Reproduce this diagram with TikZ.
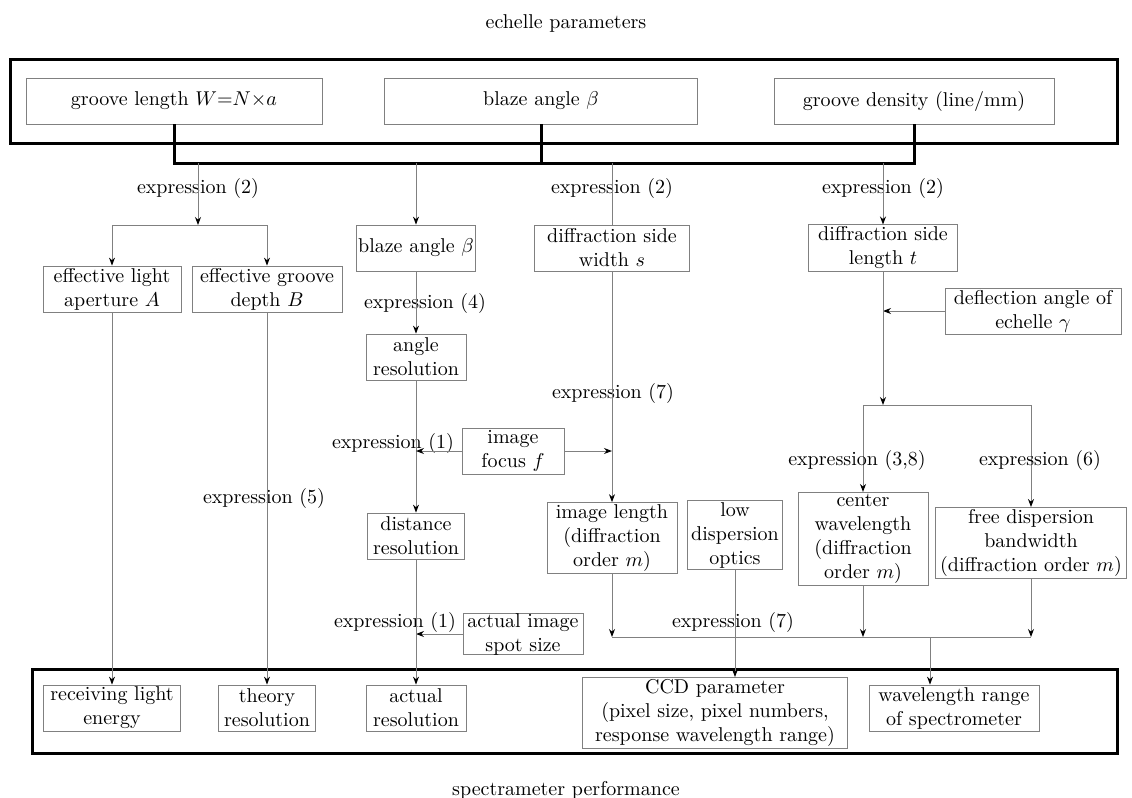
\documentclass[tikz,border=0pt]{standalone}
\usepackage{amsmath}
\usepackage{tikz}
\usetikzlibrary{arrows.meta}

\begin{document}
\begin{tikzpicture}[x=0.5pt,y=-0.5pt,font=\fontsize{10}{12}\selectfont,
	box/.style={draw=gray,align=center,inner sep=1pt,minimum height=23pt},
	frame/.style={line width=1.5pt},
	link/.style={draw=gray,line width=0.5pt},
	arr/.style={link,-{Stealth[length=4pt,width=3pt,color=black]}},
	lbl/.style={inner sep=0pt}]
\useasboundingbox (0,0) rectangle (1132,798);
% echelle parameters
\node (ttl) at (566,23) {echelle parameters};
\draw[frame] (10,59) rectangle (1117,143);
\node [box,minimum width=148pt] (len) at (174,101) {groove length $W{=}N{\times}a$};
\node [box,minimum width=156.5pt] (blz) at (541,101) {blaze angle $\beta$};
\node [box,minimum width=140pt] (den) at (914,101) {groove density (line/mm)};
\coordinate (busl) at (174,163);
\coordinate (busr) at (914,163);
\draw[frame] (len.south) -- (busl) -- (busr) -- (den.south);
\draw[frame] (blz.south) -- (blz.south |- busl);
% second row
\node [box,minimum width=69pt] (effl) at (112,289) {effective light\\aperture $A$};
\node [box,minimum width=75pt] (effg) at (267,289) {effective groove\\depth $B$};
\node [box,minimum width=58pt] (bl2) at (416,248) {blaze angle $\beta$};
\node [box,minimum width=77.5pt] (dfs) at (612,248) {diffraction side\\width $s$};
\node [box,minimum width=74.5pt] (dft) at (883,248) {diffraction side\\length $t$};
\coordinate (e2) at (198,163);
\coordinate (fork) at (198,225);
\node [lbl] at (198,188) {expression (2)};
\node [lbl] at (612,188) {expression (2)};
\node [lbl] at (883,188) {expression (2)};
\draw[arr] (e2) -- (fork);
\draw[link] (effl.north |- fork) -- (effg.north |- fork);
\draw[arr] (effl.north |- fork) -- (effl.north);
\draw[arr] (effg.north |- fork) -- (effg.north);
\draw[arr] (bl2.north |- busl) -- (bl2.north);
\draw[link] (dfs.north |- busl) -- (dfs.north);
\draw[arr] (dft.north |- busl) -- (dft.north);
% resolution column
\node [box,minimum width=50pt] (ang) at (416,357) {angle\\resolution};
\node [lbl] at (425,303) {expression (4)};
\node [box,minimum width=51pt] (foc) at (513,451) {image\\focus $f$};
\node [box,minimum width=48.5pt] (dis) at (416,536) {distance\\resolution};
\node [lbl] at (393,443) {expression (1)};
\node [box,minimum width=60pt,minimum height=19pt,inner sep=0pt] (spot) at (523,634) {actual image\\spot size};
\node [lbl] at (395,622) {expression (1)};
\draw[arr] (bl2) -- (ang);
\draw[arr] (ang) -- (dis);
\draw[arr] (foc.west) -- (foc.west -| ang.south);
\draw[arr] (spot.west) -- (spot.west -| dis.south);
% image length
\node [box,minimum width=65pt] (iml) at (612,538) {image length\\(diffraction\\order $m$)};
\node [lbl] at (613,393) {expression (7)};
\draw[arr] (dfs) -- (iml);
\draw[arr] (foc.east) -- (foc.east -| dfs.south);
\node [lbl] at (264,498) {expression (5)};
% diffraction order
\node [box,minimum width=88pt] (dfl) at (1033,311) {deflection angle of\\echelle $\gamma$};
\coordinate (split) at (883,405);
\draw[arr] (dfl.west) -- (dfl.west -| dft.south);
\draw[arr] (dft) -- (split);
\node [box,minimum width=65pt] (cwl) at (863,539) {center\\wavelength\\(diffraction\\order $m$)};
\node [box,minimum width=95.5pt] (fsr) at (1031,543) {free dispersion\\bandwidth\\(diffraction order $m$)};
\draw[link] (cwl.north |- split) -- (fsr.north |- split);
\draw[arr] (cwl.north |- split) -- (cwl.north);
\draw[arr] (fsr.north |- split) -- (fsr.north);
\node [lbl] at (857,460) {expression (3,8)};
\node [lbl] at (1040,460) {expression (6)};
\node [box,minimum width=47.5pt] (low) at (735,535) {low\\dispersion\\optics};
\coordinate (join) at (930,637);
\draw[link] (iml.south |- join) -- (fsr.south |- join);
\draw[arr] (iml) -- (iml.south |- join);
\draw[arr] (cwl) -- (cwl.south |- join);
\draw[arr] (fsr) -- (fsr.south |- join);
\node [lbl] at (733,622) {expression (7)};
% spectrometer performance
\draw[frame] (32,669) rectangle (1117,753);
\node [box,minimum width=68.5pt] (rcv) at (112,708) {receiving light\\energy};
\node [box,minimum width=48.5pt] (thr) at (267,708) {theory\\resolution};
\node [box,minimum width=50pt] (act) at (416,708) {actual\\resolution};
\node [box,minimum width=132.5pt,minimum height=35pt] (ccd) at (715,713) {CCD parameter\\(pixel size, pixel numbers,\\response wavelength range)};
\node [box,minimum width=85pt] (wlr) at (954,708) {wavelength range\\of spectrometer};
\draw[arr] (effl) -- (rcv);
\draw[arr] (effg) -- (thr);
\draw[arr] (dis) -- (act);
\draw[arr] (low) -- (low.south |- ccd.north);
\draw[arr] (join) -- (join |- wlr.north);
\node (sub) at (566,790) {spectrameter performance};
\end{tikzpicture}
\end{document}
